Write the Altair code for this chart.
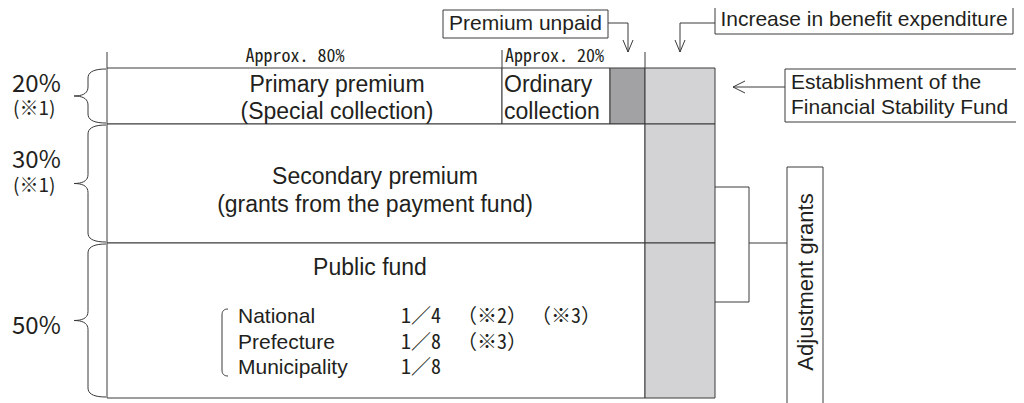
import altair as alt
import numpy as np
import pandas as pd

# ---------------- content ----------------
share_labels = ["20%", "30%", "50%"]
share_notes = ["(※1)", "(※1)", ""]
row_titles = ["Primary premium", "Secondary premium", "Public fund"]
row_subtitles = ["(Special collection)", "(grants from the payment fund)", ""]
split_labels = ["Approx. 80%", "Approx. 20%"]
ordinary_lines = ["Ordinary", "collection"]
public_bodies = ["National", "Prefecture", "Municipality"]
public_fractions = ["1／4", "1／8", "1／8"]
public_note_a = ["（※2）", "（※3）", ""]
public_note_b = ["（※3）", "", ""]
callout_unpaid = "Premium unpaid"
callout_increase = "Increase in benefit expenditure"
callout_fund = ["Establishment of the", "Financial Stability Fund"]
callout_adjust = "Adjustment grants"

# ---------------- diagram layout (page pixel coordinates) ----------------
W, H = 1008, 395
LEFT = 107
ROWS = [68, 124, 243, 398]
SPLIT_X = 502
UNPAID_X = 610
GREY_X = 645
GREY_R = 715
WHITE = "#ffffff"
DARK = "#a2a2a5"
LIGHT = "#d3d3d5"
INK = "#231f20"
LINE = "#3a3a3a"

xs = alt.Scale(domain=[8, 8 + W], nice=False, zero=False)
ys = alt.Scale(domain=[8, 8 + H], nice=False, zero=False, reverse=True)

# rectangles
rect_rows = [
    (LEFT, SPLIT_X, ROWS[0], ROWS[1], WHITE),
    (SPLIT_X, UNPAID_X, ROWS[0], ROWS[1], WHITE),
    (UNPAID_X, GREY_X, ROWS[0], ROWS[1], DARK),
    (GREY_X, GREY_R, ROWS[0], ROWS[1], LIGHT),
    (LEFT, GREY_X, ROWS[1], ROWS[2], WHITE),
    (GREY_X, GREY_R, ROWS[1], ROWS[2], LIGHT),
    (LEFT, GREY_X, ROWS[2], ROWS[3], WHITE),
    (GREY_X, GREY_R, ROWS[2], ROWS[3], LIGHT),
    # callout boxes
    (443, 608, 10, 38, WHITE),
    (715, 1013, 5, 34, WHITE),
    (785, 1018, 69, 122, WHITE),
    (787, 823, 167, 410, WHITE),
]
rects = pd.DataFrame(rect_rows, columns=["x0", "x1", "y0", "y1", "fill"])

rect_layer = alt.Chart(rects).mark_rect(stroke=LINE, strokeWidth=1).encode(
    x=alt.X("x0:Q", scale=xs, axis=None),
    x2="x1:Q",
    y=alt.Y("y0:Q", scale=ys, axis=None),
    y2="y1:Q",
    fill=alt.Fill("fill:N", scale=None),
)

# straight line segments (connectors, ticks, arrow heads, bracket)
seg_rows = [
    (LEFT, 52, LEFT, ROWS[0]),
    (SPLIT_X, 50, SPLIT_X, ROWS[0]),
    (GREY_X, 52, GREY_X, ROWS[0]),
    # Premium unpaid connector + arrow
    (608, 23, 628, 23), (628, 23, 628, 52),
    (623, 40, 628, 52), (633, 40, 628, 52),
    # Increase connector + arrow
    (715, 23, 680, 23), (680, 23, 680, 52),
    (675, 40, 680, 52), (685, 40, 680, 52),
    # Stability fund arrow
    (785, 87, 733, 87), (745, 81, 733, 87), (745, 93, 733, 87),
    # Adjustment bracket
    (GREY_R, 187, 749, 187), (749, 187, 749, 302), (749, 302, GREY_R, 302),
    (749, 243, 787, 243),
]
segs = pd.DataFrame(seg_rows, columns=["x0", "y0", "x1", "y1"])
seg_layer = alt.Chart(segs).mark_rule(color=LINE, strokeWidth=1).encode(
    x=alt.X("x0:Q", scale=xs, axis=None),
    x2="x1:Q",
    y=alt.Y("y0:Q", scale=ys, axis=None),
    y2="y1:Q",
)


# curly braces
def quad(p0, c, p1, n=10):
    t = np.linspace(0, 1, n)
    x = (1 - t) ** 2 * p0[0] + 2 * (1 - t) * t * c[0] + t ** 2 * p1[0]
    y = (1 - t) ** 2 * p0[1] + 2 * (1 - t) * t * c[1] + t ** 2 * p1[1]
    return list(zip(x, y))


def brace(y0, y1, x_end, x_mid, x_tip, r):
    ym = (y0 + y1) / 2
    pts = quad((x_end, y0), (x_mid, y0), (x_mid, y0 + r))
    if x_tip is not None:
        pts += quad((x_mid, ym - r), (x_mid, ym), (x_tip, ym))
        pts += quad((x_tip, ym), (x_mid, ym), (x_mid, ym + r))
    pts += quad((x_mid, y1 - r), (x_mid, y1), (x_end, y1))
    return pts


brace_rows = []
for i in range(3):
    for k, (bx, by) in enumerate(brace(ROWS[i] + 1, ROWS[i + 1] - 1, 106, 88, 74, 9)):
        brace_rows.append((f"b{i}", k, bx, by))
for k, (bx, by) in enumerate(brace(309, 376, 228, 222, None, 6)):
    brace_rows.append(("paren", k, bx, by))
braces = pd.DataFrame(brace_rows, columns=["id", "k", "x", "y"])
brace_layer = alt.Chart(braces).mark_line(color=LINE, strokeWidth=1).encode(
    x=alt.X("x:Q", scale=xs, axis=None),
    y=alt.Y("y:Q", scale=ys, axis=None),
    detail="id:N",
    order="k:Q",
)


def text_layer(rows, align, font, size, angle=0):
    df = pd.DataFrame(rows, columns=["x", "y", "t"])
    kw = dict(align=align, baseline="middle", font=font, fontSize=size, color=INK)
    if angle:
        kw["angle"] = angle
    return alt.Chart(df).mark_text(**kw).encode(
        x=alt.X("x:Q", scale=xs, axis=None),
        y=alt.Y("y:Q", scale=ys, axis=None),
        text="t:N",
    )


SANS = "Liberation Sans"
CJK = "Noto Sans CJK JP"
MONO = "Noto Sans Mono CJK JP, Noto Sans CJK JP"

row_centers = [(337, 85, 112), (375, 177, 205), (370, 268, None)]
main_rows = []
for (cx, y1, y2), t1, t2 in zip(row_centers, row_titles, row_subtitles):
    main_rows.append((cx, y1, t1))
    if y2 is not None and t2:
        main_rows.append((cx, y2, t2))

ordinary_rows = [(504, 85, ordinary_lines[0]), (504, 112, ordinary_lines[1])]

list_y = [317, 343, 368]
body_rows = [(238, y, t) for y, t in zip(list_y, public_bodies)]
frac_rows = [(401, y, t) for y, t in zip(list_y, public_fractions)]
frac_rows += [(457, y, t) for y, t in zip(list_y, public_note_a) if t]
frac_rows += [(531, y, t) for y, t in zip(list_y, public_note_b) if t]

share_y = [(85, 109), (161, 186), (327, None)]
share_rows = [(12, ya, s) for (ya, yb), s in zip(share_y, share_labels)]
note_rows = [(13, yb, n) for (ya, yb), n in zip(share_y, share_notes) if n]

split_rows = [(295, 57, split_labels[0]), (505, 57, split_labels[1])]

callout_center = [(525.5, 24, callout_unpaid), (864, 20, callout_increase)]
callout_left = [(791, 83, callout_fund[0]), (791, 108, callout_fund[1])]
adjust_rows = [(806, 282, callout_adjust)]

chart = alt.layer(
    rect_layer,
    seg_layer,
    brace_layer,
    text_layer(main_rows, "center", SANS, 23),
    text_layer(ordinary_rows, "left", SANS, 23),
    text_layer(body_rows, "left", SANS, 21),
    text_layer(frac_rows, "left", MONO, 20),
    text_layer(share_rows, "left", CJK, 24),
    text_layer(note_rows, "left", CJK, 19),
    text_layer(split_rows[:1], "center", MONO, 18),
    text_layer(split_rows[1:], "left", MONO, 18),
    text_layer(callout_center, "center", SANS, 21),
    text_layer(callout_left, "left", SANS, 21),
    text_layer(adjust_rows, "center", SANS, 22, angle=270),
).properties(
    width=W, height=H, padding=0, autosize=alt.AutoSizeParams(type="none")
).configure_view(strokeWidth=0)

chart.save("out.html", embed_options={"renderer": "svg", "actions": False})
